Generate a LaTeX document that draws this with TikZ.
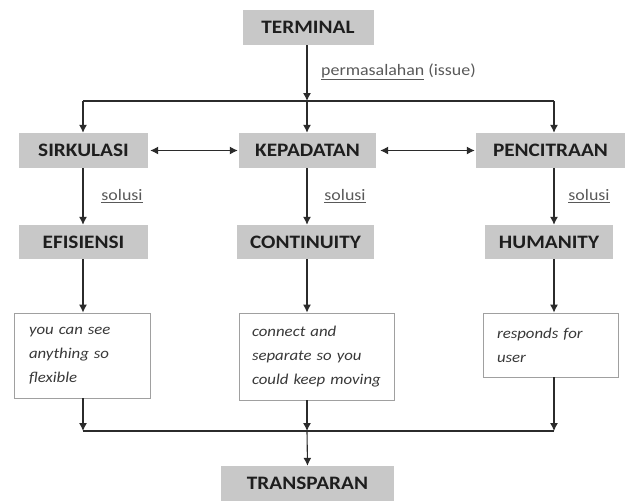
\documentclass[tikz,border=0pt]{standalone}
\usepackage{fontspec}
\setmainfont{Carlito}[FakeStretch=1.12]
\usepackage{tikz}
\usetikzlibrary{arrows.meta}

\definecolor{boxgray}{HTML}{C8C8C8}
\definecolor{boxtext}{HTML}{1E1E1E}
\definecolor{notegray}{HTML}{A0A0A0}
\definecolor{notetext}{HTML}{383838}
\definecolor{lblgray}{HTML}{595959}
\definecolor{linegray}{HTML}{2B2B2B}

\begin{document}
\begin{tikzpicture}[x=1pt, y=-1pt,
		stage/.style={fill=boxgray, text=boxtext, font=\fontsize{19}{23}\selectfont\bfseries, minimum height=35pt, inner sep=0pt},
		note/.style={draw=notegray, line width=0.8pt, text=notetext, font=\fontsize{15}{24}\selectfont\itshape, align=left, inner ysep=0pt},
		lbl/.style={text=lblgray, font=\fontsize{16}{19}\selectfont, inner sep=0pt},
		link/.style={draw=linegray, line width=1.1pt},
		arr/.style={link, -{Latex[length=8pt,width=8pt]}},
		both/.style={link, {Latex[length=8pt,width=8pt]}-{Latex[length=8pt,width=8pt]}}]
		\useasboundingbox (0,0) rectangle (630,501);
		\node[stage, minimum width=131pt] (terminal) at (308,27.5) {TERMINAL};
		\node[stage, minimum width=129pt] (sirkulasi) at (83.5,150.5) {SIRKULASI};
		\node[stage, minimum width=137pt] (kepadatan) at (307.5,150.5) {KEPADATAN};
		\node[stage, minimum width=149pt] (pencitraan) at (550.5,150.5) {PENCITRAAN};
		\node[stage, minimum width=129pt, minimum height=34pt] (efisiensi) at (83.5,242) {EFISIENSI};
		\node[stage, minimum width=137pt, minimum height=34pt] (continuity) at (305.5,242) {CONTINUITY};
		\node[stage, minimum width=128pt, minimum height=34pt] (humanity) at (549,242) {HUMANITY};
		\node[note, inner xsep=15pt, text width=106pt, minimum height=85pt] (flexible) at (82,355.5) {you can see\\anything so\\flexible};
		\node[note, inner xsep=13pt, text width=129pt, minimum height=87pt] (moving) at (316.5,356.5) {connect and\\separate so you\\could keep moving};
		\node[note, inner xsep=14pt, text width=107pt, minimum height=64pt] (user) at (550.5,345) {responds for\\user};
		\node[stage, minimum width=173pt] (transparan) at (307.5,483.5) {TRANSPARAN};
		\node[lbl, anchor=west] (issue) at (321,72) {\underline{permasalahan} (issue)};
		\node[lbl] (solusiA) at (122,196) {\underline{solusi}};
		\node[lbl] (solusiB) at (345,196) {\underline{solusi}};
		\node[lbl] (solusiC) at (589,196) {\underline{solusi}};
		\coordinate (colA) at (83,0);
		\coordinate (colB) at (307,0);
		\coordinate (colC) at (554,0);
		\coordinate (split) at (307,101);
		\coordinate (join) at (307,431);
		\draw[link] (colA |- split) -- (colC |- split);
		\draw[link] (colA |- join) -- (colC |- join);
		\draw[arr] (terminal.south -| split) -- (split);
		\draw[arr] (colA |- split) -- (colA |- sirkulasi.north);
		\draw[arr] (colB |- split) -- (colB |- kepadatan.north);
		\draw[arr] (colC |- split) -- (colC |- pencitraan.north);
		\draw[both, shorten <=2pt, shorten >=1pt] (sirkulasi) -- (kepadatan);
		\draw[both, shorten <=4pt, shorten >=1pt] (kepadatan) -- (pencitraan);
		\draw[arr] (colA |- sirkulasi.south) -- (colA |- efisiensi.north);
		\draw[arr] (colB |- kepadatan.south) -- (colB |- continuity.north);
		\draw[arr] (colC |- pencitraan.south) -- (colC |- humanity.north);
		\draw[arr] (colA |- efisiensi.south) -- (colA |- flexible.north);
		\draw[arr] (colB |- continuity.south) -- (colB |- moving.north);
		\draw[arr] (colC |- humanity.south) -- (colC |- user.north);
		\draw[arr] (colA |- flexible.south) -- (colA |- join);
		\draw[arr] (colB |- moving.south) -- (join);
		\draw[arr] (colC |- user.south) -- (colC |- join);
		\draw[arr] (join) -- (transparan.north);
	\end{tikzpicture}
\end{document}
